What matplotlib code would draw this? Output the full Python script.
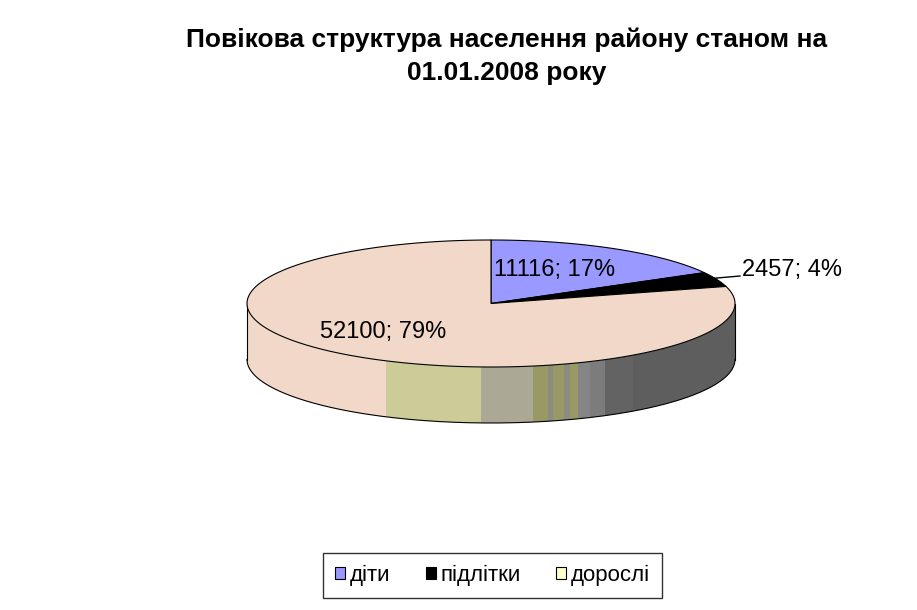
import matplotlib.pyplot as plt
from matplotlib.patches import Polygon, Rectangle, Patch
import numpy as np

plt.rcParams['font.family'] = ['Liberation Sans', 'DejaVu Sans']

# data
categories = ['діти', 'підлітки', 'дорослі']
values = [11116, 2457, 52100]
top_colors = ['#9999FF', '#000000', '#F1D8C8']
legend_colors = ['#9999FF', '#000000', '#FFFFCC']
title_lines = ['Повікова структура населення району станом на', '01.01.2008 року']

# pie geometry in pixels
cx, cy = 491, 303.5
ra, rb = 244, 63.5
depth = 56

# the odd striped side Excel drew (x from, x to, colour)
side_stripes = [
    (247, 386, '#F1D8C8'),
    (386, 481, '#CCCC99'),
    (481, 533, '#ABA996'),
    (533, 548, '#999966'),
    (548, 553, '#8C8C80'),
    (553, 564, '#999966'),
    (564, 570, '#8C8C80'),
    (570, 578, '#999966'),
    (578, 590, '#858585'),
    (590, 605, '#7C7C7C'),
    (605, 633, '#636363'),
    (633, 736, '#5E5E5E'),
]


def ell(theta, dy=0):
    # theta in degrees, clockwise from 12 o'clock
    t = np.radians(theta)
    return cx + ra * np.sin(t), cy - rb * np.cos(t) + dy


fig = plt.figure(figsize=(9.17, 6.10), dpi=100)
ax = fig.add_axes([0, 0, 1, 1])
ax.set_xlim(0, 917)
ax.set_ylim(610, 0)
ax.axis('off')

# side of the cylinder (front half)
th = np.linspace(90, 270, 200)
tx, ty = ell(th)
bx, by = ell(th[::-1], depth)
side_pts = np.column_stack([np.concatenate([tx, bx]), np.concatenate([ty, by])])
side = Polygon(side_pts, closed=True, facecolor='#F1D8C8', edgecolor='none', zorder=1)
ax.add_patch(side)
for x0, x1, c in side_stripes:
    r = Rectangle((x0, cy - 5), x1 - x0, rb + depth + 10, facecolor=c, edgecolor='none', zorder=2)
    ax.add_patch(r)
    r.set_clip_path(side)
ax.plot(bx, by, color='black', lw=0.8, zorder=3)
ax.plot([cx - ra, cx - ra], [cy, cy + depth], color='black', lw=0.8, zorder=3)
ax.plot([cx + ra, cx + ra], [cy, cy + depth], color='black', lw=0.8, zorder=3)

# top wedges
fracs = np.array(values) / sum(values)
starts = np.concatenate([[0], np.cumsum(fracs)[:-1]]) * 360
ends = np.cumsum(fracs) * 360
for s, e, c in zip(starts, ends, top_colors):
    t = np.linspace(s, e, 200)
    x, y = ell(t)
    pts = np.column_stack([np.concatenate([[cx], x]), np.concatenate([[cy], y])])
    ax.add_patch(Polygon(pts, closed=True, facecolor=c, edgecolor='black', lw=0.8, zorder=4))

# data labels
labels = ['%d; %d%%' % (v, round(f * 100)) for v, f in zip(values, fracs)]
ax.text(494, 270, labels[0], fontsize=17, ha='left', va='center', zorder=6)
ax.text(742, 270, labels[1], fontsize=17, ha='left', va='center', zorder=6)
ax.text(320, 332, labels[2], fontsize=17, ha='left', va='center', zorder=6)
mx, my = ell((starts[1] + ends[1]) / 2)
ax.plot([mx - 4, 740], [my - 1, 276], color='black', lw=1, zorder=6)

# title, two lines
ax.text(506.5, 47.5, title_lines[0], fontsize=19, fontweight='bold', ha='center', va='baseline')
ax.text(506.5, 80, title_lines[1], fontsize=19, fontweight='bold', ha='center', va='baseline')

handles = [Patch(facecolor=c, edgecolor='black', lw=0.8) for c in legend_colors]
ax.legend(handles, categories, loc='center', bbox_to_anchor=(492.5 / 917, 1 - 575.5 / 610),
          bbox_transform=fig.transFigure, ncol=3, fontsize=16, frameon=True,
          fancybox=False, edgecolor='black', handlelength=0.45, handleheight=0.45,
          handletextpad=0.2, columnspacing=1.6, borderpad=0.55)

fig.savefig('out.png', dpi=100)
